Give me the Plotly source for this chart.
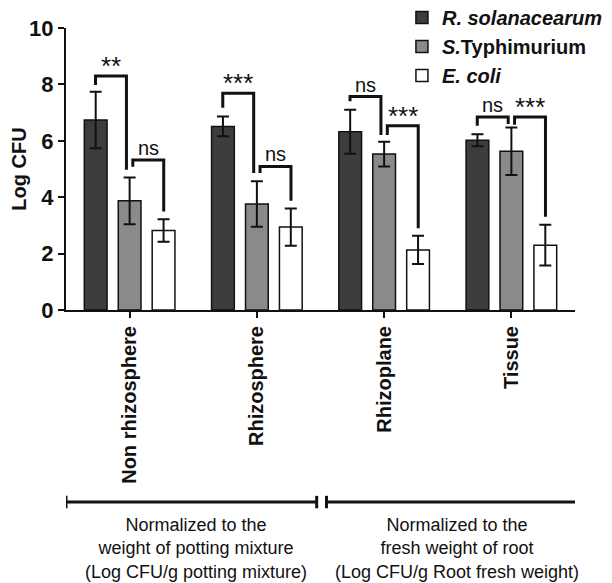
import plotly.graph_objects as go

# ---- data ----
categories = ["Non rhizosphere", "Rhizosphere", "Rhizoplane", "Tissue"]
series_names = ["<b><i>R. solanacearum</i></b>", "<b><i>S.</i>Typhimurium</b>", "<b><i>E. coli</i></b>"]
r_sol_mean = [6.74, 6.51, 6.32, 6.02]
r_sol_err = [1.00, 0.35, 0.78, 0.21]
s_typ_mean = [3.87, 3.76, 5.53, 5.63]
s_typ_err = [0.83, 0.81, 0.44, 0.84]
e_coli_mean = [2.82, 2.94, 2.13, 2.30]
e_coli_err = [0.40, 0.66, 0.50, 0.72]

# significance brackets: group, left bar, right bar, top, left leg end, right leg end, label
br_group = [0, 0, 1, 1, 2, 2, 3, 3]
br_left = [0, 1, 0, 1, 0, 1, 0, 1]
br_right = [1, 2, 1, 2, 1, 2, 1, 2]
br_top = [8.30, 5.32, 7.69, 5.09, 7.57, 6.53, 6.84, 6.84]
br_left_end = [7.98, 5.08, 7.17, 4.86, 7.40, 6.21, 6.53, 6.57]
br_right_end = [4.97, 3.49, 4.86, 3.87, 6.21, 2.90, 6.60, 3.31]
br_label = ["**", "ns", "***", "ns", "ns", "***", "ns", "***"]

group_notes = [
    "Normalized to the<br>weight of potting mixture<br>(Log CFU/g potting mixture)",
    "Normalized to the<br>fresh weight of root<br>(Log CFU/g Root fresh weight)",
]

y_ticks = [0, 2, 4, 6, 8, 10]

# ---- figure ----
FONT = "Liberation Sans, Arial, sans-serif"
xs = list(range(len(categories)))
means = [r_sol_mean, s_typ_mean, e_coli_mean]
errs = [r_sol_err, s_typ_err, e_coli_err]
colors = ["#3d3d3d", "#8a8a8a", "#ffffff"]

fig = go.Figure()
for name, m, e, c in zip(series_names, means, errs, colors):
    fig.add_trace(go.Bar(
        x=xs, y=m, name=name,
        marker=dict(color=c, line=dict(color="#111111", width=1.5)),
        error_y=dict(type="data", array=e, visible=True, color="#111111",
                     thickness=2, width=6),
    ))

bar_off = [-0.268, 0.0, 0.268]
inner = 0.025
for g, l, r, top, le, re_, lab in zip(br_group, br_left, br_right, br_top,
                                       br_left_end, br_right_end, br_label):
    xl = g + bar_off[l] + (inner if l == 1 else 0)
    xr = g + bar_off[r] - (inner if r == 1 else 0)
    fig.add_trace(go.Scatter(
        x=[xl, xl, xr, xr], y=[le, top, top, re_], mode="lines",
        line=dict(color="#111111", width=3), showlegend=False, hoverinfo="skip",
    ))
    is_star = "*" in lab
    fig.add_annotation(
        x=(xl + xr) / 2, y=top, text=lab, showarrow=False,
        xref="x", yref="y", yanchor="bottom",
        yshift=-6 if is_star else 0, borderpad=0,
        font=dict(family=FONT, size=26 if is_star else 20, color="#111111"),
    )

# bottom range brackets and notes
ranges = [(-0.5, 1.47), (1.547, 3.525)]
line_y = -0.681
for (a, b), note in zip(ranges, group_notes):
    fig.add_shape(type="line", xref="x", yref="paper", x0=a, x1=b, y0=line_y, y1=line_y,
                  line=dict(color="#111111", width=3))
    for xx in (a, b):
        fig.add_shape(type="line", xref="x", yref="paper", x0=xx, x1=xx,
                      y0=line_y - 0.022, y1=line_y + 0.022,
                      line=dict(color="#111111", width=3))
    fig.add_annotation(
        x=(a + b) / 2 + 0.04, y=-0.72, xref="x", yref="paper", text=note,
        showarrow=False, yanchor="top", align="center",
        font=dict(family=FONT, size=18, color="#111111"),
    )

# the page body adds an 8px offset, so the figure is drawn 8px smaller
fig.update_layout(
    width=604, height=575,
    margin=dict(l=58, r=37, t=20, b=273, autoexpand=False),
    plot_bgcolor="white", paper_bgcolor="white",
    barmode="group", bargap=0.2, bargroupgap=0.33,
    font=dict(family=FONT, color="#111111"),
    legend=dict(x=0.66, y=1.106, xanchor="left", yanchor="top",
                font=dict(family=FONT, size=20, color="#111111"),
                bgcolor="rgba(0,0,0,0)", tracegroupgap=0, itemwidth=30),
    showlegend=True,
)
fig.update_xaxes(
    range=[-0.5, 3.5], tickvals=xs, ticktext=["<b>%s</b>" % c for c in categories],
    tickangle=-90, ticks="outside", ticklen=6, tickwidth=2, tickcolor="#111111",
    showline=True, linecolor="#111111", linewidth=2, showgrid=False, zeroline=False,
    tickfont=dict(family=FONT, size=20, color="#111111"), automargin=False,
)
fig.update_yaxes(
    range=[0, 10], tickvals=y_ticks, ticktext=["<b>%d</b>" % v for v in y_ticks],
    ticks="outside", ticklen=6, tickwidth=2, tickcolor="#111111",
    showline=True, linecolor="#111111", linewidth=2, showgrid=False, zeroline=False,
    tickfont=dict(family=FONT, size=22, color="#111111"), automargin=False,
    title=dict(text="<b>Log CFU</b>", font=dict(family=FONT, size=20, color="#111111"),
               standoff=4),
)

fig.write_html("out.html")
